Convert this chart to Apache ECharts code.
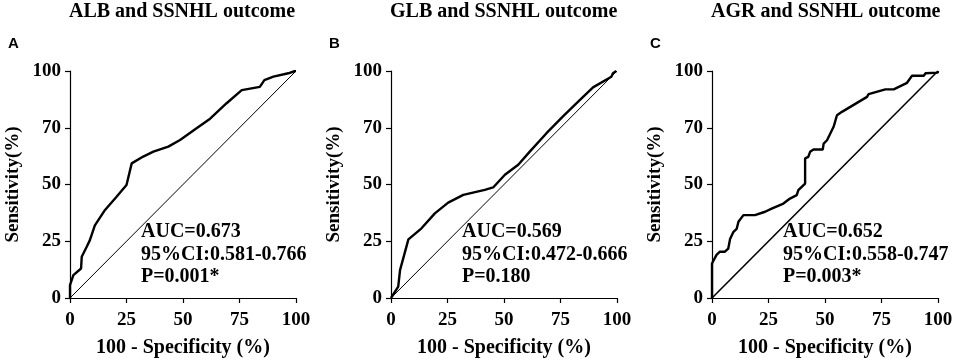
<!DOCTYPE html>
<html><head><meta charset="utf-8">
<script src="https://cdn.jsdelivr.net/npm/echarts@6/dist/echarts.min.js"></script>
<style>html,body{margin:0;padding:0;background:#fff}#c{width:957px;height:363px}</style>
</head><body><div id="c"></div>
<script>
// ---- data ----
const titles = ['ALB and SSNHL outcome','GLB and SSNHL outcome','AGR and SSNHL outcome'];
const panelLetters = ['A','B','C'];
const xTickLabels = ['0','25','50','75','100'];
const yTickLabels = ['0','25','50','70','100'];
const xAxisName = '100 - Specificity (%)';
const yAxisName = 'Sensitivity(%)';
const refX = [0, 100];
const refY = [0, 100];

const rocA_x = [0,0,1.5,4.9,5.2,7.4,8.8,11,15.5,20.6,25,27.3,32.4,36.9,43.5,48.7,56,62,69.3,76,84,86,90,96.6,99.6,100];
const rocA_y = [0,5.7,10.1,13,18.2,22.6,25.5,32,38.8,44.6,49.8,59.3,62.3,64.5,66.7,69.6,74.8,79,85.8,91.6,93,96,97.5,99,100,100];

const rocB_x = [0,3.2,4,7.7,13.5,19.4,25.3,32,41.5,45.2,50.4,56.3,61.4,68.8,76.1,83.5,89.4,97.5,98.2,99.7,100];
const rocB_y = [0,5,12.3,25.8,30.7,37.3,42,45.4,47.6,48.7,54.3,58.7,64.5,72.6,80,87.2,92.8,97.5,99,100,100];

const rocC_x = [0,0,2,3.5,5.7,7.2,8,9.4,10.9,11.7,13.9,19,23.5,26.4,31.6,34.5,37.5,38.2,41.2,41.2,42.6,43.4,44.9,49,49.4,50.9,53.8,55.3,57.5,68.6,69.3,76.7,80.4,86.3,88.5,93.7,94.5,99.9,100];
const rocC_y = [0,15.2,19,20.4,20.4,21.8,26,29,30.4,33.6,36.5,36.5,38,39.4,41.6,43.8,45.3,47.5,50.4,61.5,62.2,64.4,65.4,65.4,68,69.5,75.4,80.5,82,88.6,89.8,91.9,91.9,94.8,97.9,97.9,99,99.3,100];

const aucText = [
  ['AUC=0.673','95%CI:0.581-0.766','P=0.001*'],
  ['AUC=0.569','95%CI:0.472-0.666','P=0.180'],
  ['AUC=0.652','95%CI:0.558-0.747','P=0.003*']
];
const rocs = [[rocA_x,rocA_y],[rocB_x,rocB_y],[rocC_x,rocC_y]];

// ---- layout ----
const gridLefts = [70, 391, 712];
const gridW = 226, gridTop = 71, gridH = 227;
const serif = '"Liberation Serif","Times New Roman",serif';
const zip = (a,b) => a.map((v,i)=>[v,b[i]]);

const grids=[], xAxes=[], yAxes=[], series=[], graphics=[];
const xLabelMap = {0:xTickLabels[0],25:xTickLabels[1],50:xTickLabels[2],75:xTickLabels[3],100:xTickLabels[4]};
const yLabelMap = {0:yTickLabels[0],25:yTickLabels[1],50:yTickLabels[2],75:yTickLabels[3],100:yTickLabels[4]};
for (let i=0;i<3;i++){
  grids.push({left:gridLefts[i], top:gridTop, width:gridW, height:gridH});
  const common = {
    type:'value', min:0, max:100, interval:25, gridIndex:i,
    axisLine:{show:true, onZero:false, lineStyle:{color:'#000', width:1.2}},
    axisTick:{show:true, inside:false, length:5, lineStyle:{color:'#000', width:1.2}},
    splitLine:{show:false},
    nameLocation:'middle',
    nameTextStyle:{fontFamily:serif, fontWeight:'bold', fontSize:20, color:'#000'}
  };
  xAxes.push(Object.assign({}, common, {
    name:xAxisName, nameGap:40,
    axisLabel:{color:'#000', fontFamily:serif, fontWeight:'bold', fontSize:19, margin:13, formatter:v=>xLabelMap[v]}
  }));
  yAxes.push(Object.assign({}, common, {
    name:yAxisName, nameGap:47,
    nameTextStyle:{fontFamily:serif, fontWeight:'bold', fontSize:19, color:'#000'},
    axisLabel:{color:'#000', fontFamily:serif, fontWeight:'bold', fontSize:19, margin:9, formatter:v=>yLabelMap[v]}
  }));
  series.push({type:'line', xAxisIndex:i, yAxisIndex:i, data:zip(refX,refY), showSymbol:false, silent:true,
    lineStyle:{color:'#000', width: i===2?1.6:1}});
  series.push({type:'line', xAxisIndex:i, yAxisIndex:i, data:zip(rocs[i][0],rocs[i][1]), showSymbol:false, silent:true,
    lineStyle:{color:'#000', width:2.4}, z:3});
  // title
  graphics.push({type:'text', left: gridLefts[i]+gridW/2 - 114, top:2,
    style:{text:titles[i], font:'bold 20px '+serif, fill:'#000'}});
  graphics.push({type:'text', left: gridLefts[i]-62, top:36,
    style:{text:panelLetters[i], font:'bold 15px "Liberation Sans",Arial,sans-serif', fill:'#000'}});
  aucText[i].forEach((t,k)=>{
    graphics.push({type:'text', left: gridLefts[i]+71, top:222+k*22.5,
      style:{text:t, font:'bold 20px '+serif, fill:'#000'}});
  });
}
const chart = echarts.init(document.getElementById('c'), null, {renderer:'canvas'});
chart.setOption({
  animation:false, backgroundColor:'#fff',
  grid:grids, xAxis:xAxes, yAxis:yAxes, series:series, graphic:graphics
});
</script></body></html>
